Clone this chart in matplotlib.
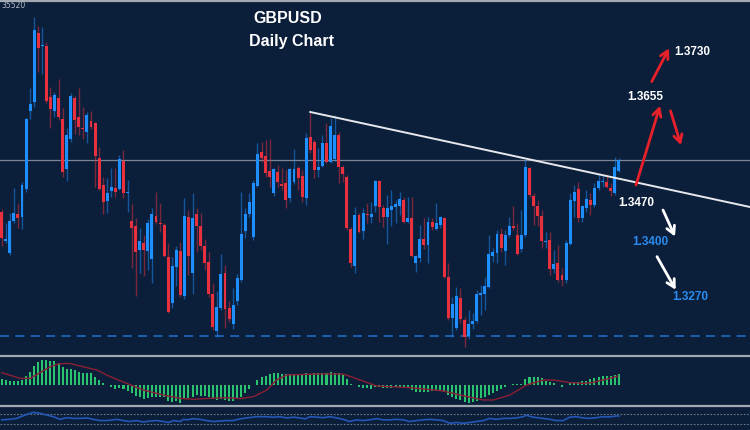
import numpy as np
import matplotlib
matplotlib.use("Agg")
import matplotlib.pyplot as plt
from matplotlib.lines import Line2D

# GBPUSD daily candles
opens = [1.3476, 1.3418, 1.3394, 1.3458, 1.3472, 1.3466, 1.3522, 1.3678, 1.3696, 1.3834,
         1.3808, 1.3808, 1.3706, 1.3678, 1.3704, 1.3662, 1.3562, 1.3622, 1.3704, 1.3666,
         1.3644, 1.3636, 1.3658, 1.3654, 1.3584, 1.3530, 1.3498, 1.3518, 1.3524, 1.3522,
         1.3578, 1.3514, 1.3458, 1.3448, 1.3400, 1.3414, 1.3398, 1.3382, 1.3468, 1.3454,
         1.3450, 1.3386, 1.3294, 1.3366, 1.3398, 1.3308, 1.3466, 1.3354, 1.3472, 1.3448,
         1.3408, 1.3376, 1.3312, 1.3238, 1.3284, 1.3354, 1.3284, 1.3252, 1.3298, 1.3340,
         1.3438, 1.3472, 1.3426, 1.3528, 1.3596, 1.3588, 1.3558, 1.3514, 1.3556, 1.3532,
         1.3534, 1.3504, 1.3536, 1.3564, 1.3548, 1.3504, 1.3626, 1.3616, 1.3560, 1.3568,
         1.3614, 1.3576, 1.3582, 1.3630, 1.3566, 1.3546, 1.3442, 1.3368, 1.3470, 1.3438,
         1.3472, 1.3466, 1.3488, 1.3538, 1.3484, 1.3466, 1.3480, 1.3486, 1.3488, 1.3500,
         1.3456, 1.3464, 1.3374, 1.3384, 1.3422, 1.3410, 1.3456, 1.3442, 1.3450, 1.3464,
         1.3346, 1.3264, 1.3244, 1.3304, 1.3260, 1.3228, 1.3252, 1.3258, 1.3310, 1.3312,
         1.3326, 1.3388, 1.3394, 1.3432, 1.3398, 1.3430, 1.3448, 1.3430, 1.3402, 1.3430,
         1.3564, 1.3508, 1.3488, 1.3468, 1.3416, 1.3420, 1.3362, 1.3374, 1.3350, 1.3340,
         1.3412, 1.3498, 1.3522, 1.3464, 1.3484, 1.3500, 1.3490, 1.3524, 1.3536, 1.3536,
         1.3524, 1.3514, 1.3558]
closes = [1.3424, 1.3422, 1.3458, 1.3474, 1.3464, 1.3530, 1.3662, 1.3692, 1.3840, 1.3804,
          1.3810, 1.3698, 1.3682, 1.3710, 1.3666, 1.3556, 1.3630, 1.3708, 1.3660, 1.3646,
          1.3642, 1.3670, 1.3646, 1.3588, 1.3522, 1.3496, 1.3514, 1.3526, 1.3516, 1.3582,
          1.3514, 1.3516, 1.3444, 1.3396, 1.3418, 1.3400, 1.3454, 1.3472, 1.3456, 1.3452,
          1.3388, 1.3276, 1.3368, 1.3400, 1.3310, 1.3468, 1.3388, 1.3464, 1.3448, 1.3408,
          1.3374, 1.3312, 1.3246, 1.3286, 1.3352, 1.3282, 1.3262, 1.3290, 1.3344, 1.3432,
          1.3472, 1.3496, 1.3534, 1.3592, 1.3584, 1.3554, 1.3546, 1.3562, 1.3536, 1.3528,
          1.3500, 1.3562, 1.3562, 1.3544, 1.3506, 1.3624, 1.3600, 1.3560, 1.3566, 1.3614,
          1.3576, 1.3648, 1.3630, 1.3566, 1.3552, 1.3444, 1.3374, 1.3470, 1.3436, 1.3474,
          1.3470, 1.3472, 1.3538, 1.3486, 1.3466, 1.3484, 1.3488, 1.3492, 1.3502, 1.3456,
          1.3464, 1.3388, 1.3388, 1.3422, 1.3410, 1.3456, 1.3446, 1.3454, 1.3466, 1.3346,
          1.3264, 1.3292, 1.3308, 1.3262, 1.3226, 1.3252, 1.3258, 1.3312, 1.3314, 1.3328,
          1.3392, 1.3396, 1.3432, 1.3404, 1.3430, 1.3448, 1.3444, 1.3392, 1.3430, 1.3566,
          1.3510, 1.3488, 1.3468, 1.3418, 1.3418, 1.3362, 1.3372, 1.3340, 1.3340, 1.3414,
          1.3500, 1.3516, 1.3464, 1.3488, 1.3502, 1.3490, 1.3524, 1.3538, 1.3538, 1.3526,
          1.3518, 1.3566, 1.3580]
highs = [1.3482, 1.3454, 1.3474, 1.3524, 1.3494, 1.3536, 1.3664, 1.3724, 1.3866, 1.3848,
         1.3846, 1.3816, 1.3726, 1.3716, 1.3742, 1.3684, 1.3644, 1.3714, 1.3708, 1.3724,
         1.3686, 1.3676, 1.3678, 1.3656, 1.3606, 1.3546, 1.3544, 1.3564, 1.3564, 1.3590,
         1.3600, 1.3540, 1.3492, 1.3464, 1.3444, 1.3430, 1.3462, 1.3484, 1.3516, 1.3494,
         1.3454, 1.3414, 1.3386, 1.3408, 1.3416, 1.3504, 1.3480, 1.3514, 1.3484, 1.3474,
         1.3422, 1.3396, 1.3334, 1.3318, 1.3392, 1.3370, 1.3298, 1.3324, 1.3352, 1.3516,
         1.3484, 1.3514, 1.3540, 1.3614, 1.3616, 1.3620, 1.3622, 1.3564, 1.3570, 1.3564,
         1.3560, 1.3564, 1.3602, 1.3568, 1.3560, 1.3634, 1.3674, 1.3620, 1.3604, 1.3630,
         1.3654, 1.3664, 1.3670, 1.3636, 1.3570, 1.3550, 1.3446, 1.3486, 1.3474, 1.3484,
         1.3494, 1.3496, 1.3540, 1.3540, 1.3490, 1.3510, 1.3520, 1.3500, 1.3516, 1.3506,
         1.3506, 1.3506, 1.3390, 1.3450, 1.3464, 1.3466, 1.3464, 1.3494, 1.3468, 1.3466,
         1.3374, 1.3306, 1.3326, 1.3324, 1.3266, 1.3280, 1.3274, 1.3320, 1.3330, 1.3346,
         1.3430, 1.3404, 1.3440, 1.3444, 1.3440, 1.3466, 1.3488, 1.3454, 1.3480, 1.3580,
         1.3566, 1.3514, 1.3500, 1.3480, 1.3436, 1.3436, 1.3400, 1.3410, 1.3364, 1.3420,
         1.3514, 1.3530, 1.3536, 1.3490, 1.3520, 1.3514, 1.3534, 1.3554, 1.3548, 1.3552,
         1.3534, 1.3586, 1.3584]
lows = [1.3408, 1.3414, 1.3390, 1.3454, 1.3444, 1.3442, 1.3516, 1.3662, 1.3686, 1.3756,
        1.3752, 1.3694, 1.3644, 1.3666, 1.3660, 1.3546, 1.3538, 1.3616, 1.3632, 1.3630,
        1.3622, 1.3614, 1.3642, 1.3526, 1.3520, 1.3472, 1.3474, 1.3506, 1.3506, 1.3520,
        1.3504, 1.3476, 1.3364, 1.3308, 1.3354, 1.3348, 1.3360, 1.3334, 1.3452, 1.3436,
        1.3386, 1.3274, 1.3284, 1.3328, 1.3306, 1.3302, 1.3350, 1.3312, 1.3396, 1.3400,
        1.3360, 1.3306, 1.3240, 1.3226, 1.3280, 1.3244, 1.3256, 1.3242, 1.3290, 1.3336,
        1.3424, 1.3466, 1.3420, 1.3526, 1.3576, 1.3546, 1.3526, 1.3508, 1.3526, 1.3520,
        1.3484, 1.3496, 1.3532, 1.3520, 1.3496, 1.3490, 1.3594, 1.3544, 1.3546, 1.3566,
        1.3574, 1.3574, 1.3578, 1.3534, 1.3536, 1.3440, 1.3366, 1.3354, 1.3434, 1.3422,
        1.3454, 1.3454, 1.3476, 1.3456, 1.3446, 1.3412, 1.3448, 1.3454, 1.3470, 1.3454,
        1.3454, 1.3386, 1.3356, 1.3376, 1.3402, 1.3374, 1.3440, 1.3440, 1.3444, 1.3344,
        1.3260, 1.3226, 1.3240, 1.3254, 1.3206, 1.3222, 1.3242, 1.3254, 1.3270, 1.3280,
        1.3324, 1.3376, 1.3374, 1.3396, 1.3370, 1.3426, 1.3440, 1.3390, 1.3396, 1.3426,
        1.3506, 1.3450, 1.3448, 1.3404, 1.3404, 1.3350, 1.3354, 1.3336, 1.3328, 1.3334,
        1.3410, 1.3466, 1.3456, 1.3456, 1.3476, 1.3470, 1.3486, 1.3520, 1.3526, 1.3524,
        1.3508, 1.3510, 1.3556]

# MACD panel (pips): histogram per candle, signal line read at points
macd_hist = [1.7, 1.4, 1.1, 1.1, 1.1, 1.4, 2.6, 3.7, 5.7, 6.7,
             7.5, 7.5, 7.1, 7.1, 6.4, 5.4, 4.7, 4.7, 4.4, 3.9,
             3.6, 3.4, 3.4, 2.4, 1.4, 0.4, -0.2, -0.6, -1.3, -1.1,
             -1.4, -1.8, -2.4, -3.4, -3.8, -4.3, -4.1, -3.8, -3.6, -3.6,
             -3.6, -4.8, -5.1, -4.8, -5.4, -4.4, -4.1, -3.6, -3.1, -3.3,
             -3.3, -3.8, -4.4, -4.6, -4.4, -4.6, -4.8, -4.9, -4.4, -3.6,
             -2.4, -1.4, -0.2, 1.4, 2.2, 2.7, 3.1, 3.4, 3.4, 3.2,
             3.2, 3.2, 3.2, 3.2, 3.2, 3.4, 3.2, 3.4, 3.4, 3.4,
             3.6, 3.8, 3.6, 3.4, 2.9, 1.7, 0.2, -0.1, -0.8, -1.1,
             -1.1, -1.4, -0.8, -0.8, -1.1, -1.1, -1.1, -0.8, -0.8, -0.8,
             -1.1, -1.6, -2.3, -2.3, -2.3, -2.3, -1.8, -1.8, -1.8, -2.1,
             -3.1, -3.8, -4.3, -4.6, -5.3, -5.6, -5.3, -4.8, -4.1, -3.6,
             -3.1, -2.6, -1.8, -1.3, -0.6, -0.2, 0.3, 0.3, 0.3, 1.6,
             2.2, 2.2, 2.2, 1.9, 1.2, 0.9, 0.4, -0.2, -0.6, -0.2,
             0.4, 0.9, 0.9, 1.2, 1.2, 1.6, 1.9, 2.2, 2.6, 2.6,
             2.6, 2.9, 3.2]
signal_x = [0, 4.5, 7, 12, 14, 16, 17, 20, 23.4, 26.7, 30.8, 34.9, 39.8, 43.9, 47.2,
            51.3, 55.4, 58.7, 62, 65.3, 67.7, 70.2, 77.6, 84.1, 88.3, 92.4, 100.6,
            108.8, 112.9, 118.6, 121.1, 125.2, 129.3, 133.4, 135.9, 140, 143.3,
            145.7, 149.8, 151.8]
signal_y = [3.6, 1.9, 1.9, 5.4, 6.2, 6.4, 6.3, 5.4, 4.4, 2.4, 0.4, -1.6, -3.1, -4.1, -4.4,
            -4.1, -3.9, -4.2, -3.6, -1.6, 1.4, 2.9, 3.2, 3.2, 1.4, -0.4, -0.9,
            -1.9, -3.1, -4.6, -4.6, -3.1, -0.1, 1.4, 1.4, 0.6, 0.4,
            0.7, 1.9, 2.6]

# lower oscillator (RSI style) read at points
osc_x = [0, 1.9, 3.7, 5.3, 7, 7.8, 9.4, 11.1, 12.7, 14.4, 16, 17.6, 19.3, 20.9, 22.6,
         24.2, 25.9, 27.5, 28.3, 30, 31.6, 33.2, 34.9, 36.5, 38.2, 39.8, 41.1, 42.3,
         44, 44.7, 45.6, 47.2, 48.8, 50.5, 52.1, 53.8, 55.4, 57, 58.7, 60.3, 62.8,
         65.3, 66.9, 68.5, 70.2, 71.8, 73.5, 74.7, 76, 79.2, 80.8, 82.5, 84.1, 85.7,
         87.4, 89, 90.7, 92.3, 93.9, 95.6, 97.2, 98.9, 100.5, 102.2, 103.8, 105.4,
         107.1, 108.7, 110.4, 112, 113.6, 115.3, 116.9, 118.6, 120.2, 121.8, 123.5,
         125.1, 126.8, 128.4, 129.2, 130.9, 133.3, 135, 136.6, 138.3, 139.9, 141.5,
         143.2, 144.8, 146.5, 148.1, 149.7, 151.4, 152]
osc_y = [47, 49, 53, 64, 74, 78, 74, 67, 60, 49, 56, 53, 53, 55, 49,
         44, 44, 47, 49, 44, 40, 44, 38, 42, 44, 40, 36, 44,
         40, 49, 47, 52, 49, 44, 40, 42, 44, 44, 51, 55, 60,
         60, 58, 60, 55, 58, 55, 51, 60, 56, 60, 55, 49, 40,
         47, 44, 47, 52, 47, 47, 49, 47, 40, 44, 47, 49,
         47, 44, 33, 36, 33, 36, 40, 44, 53, 49, 53,
         53, 55, 60, 66, 58, 53, 49, 44, 44, 58, 60,
         55, 53, 56, 60, 59, 63, 63]
osc_levels = [70, 30]

# drawn levels
trend_x = [76, 184.3]
trend_y = [1.3676, 1.3486]
support_level = 1.3228

# target labels (axes fraction positions)
targets = ['1.3730', '1.3655', '1.3470', '1.3400', '1.3270']
target_pos = [(0.9233, 0.852), (0.8607, 0.726), (0.848, 0.426), (0.8673, 0.314), (0.9207, 0.160)]
target_col = ['white', 'white', 'white', '#2b8cf0', '#2b8cf0']

bg = '#0b1f3a'
up_col = '#1e8fff'
dn_col = '#e8303f'

W, H = 750, 430
fig = plt.figure(figsize=(7.5, 4.3), dpi=100, facecolor=bg)
ax = fig.add_axes([0, 77 / H, 1, 353 / H])
ax_m = fig.add_axes([0, 25 / H, 1, 48 / H])
ax_o = fig.add_axes([0, 0, 1, 22 / H])
xlim = (-1.7 / 4.06, (W - 1.7) / 4.06)
for a in (ax, ax_m, ax_o):
    a.set_facecolor(bg)
    a.set_xlim(*xlim)
    a.set_xticks([])
    a.set_yticks([])
    for s in a.spines.values():
        s.set_visible(False)

o = np.array(opens)
c = np.array(closes)
h = np.array(highs)
l = np.array(lows)
x = np.arange(len(o))
up = c >= o
cols = np.where(up, up_col, dn_col)

ax.axhline(closes[-1], color='#7b8594', lw=0.9, zorder=1)
ax.axhline(support_level, color='#1c64b8', lw=1.3, ls=(0, (5, 3.5)), zorder=1)

ax.vlines(x, l, h, colors=cols, lw=1.0, alpha=0.5, zorder=2)
body_lo = np.minimum(o, c)
body_h = np.maximum(np.abs(c - o), 0.0003)
ax.bar(x, body_h, bottom=body_lo, width=0.72, color=cols, lw=0, zorder=3,
       antialiased=False)

ax.plot(trend_x, trend_y, color='#e8e8ec', lw=1.4, zorder=4)
ax.set_ylim(1.3900 - 353 * 0.0002, 1.3900)

ax.text(0.3833, 0.949, 'GBPUSD', transform=ax.transAxes, ha='center', va='center',
        color='white', fontsize=11.5, fontweight='bold', family='Liberation Sans')
ax.text(0.389, 0.882, 'Daily Chart', transform=ax.transAxes, ha='center', va='center',
        color='white', fontsize=11.5, fontweight='bold', family='Liberation Sans')

for t, p, col in zip(targets, target_pos, target_col):
    ax.text(p[0], p[1], t, transform=ax.transAxes, ha='center', va='center',
            color=col, fontsize=8.5, fontweight='bold', family='Liberation Sans', zorder=6)

arrows = [((0.848, 0.476), (0.880, 0.700), '#e8202a'),
          ((0.869, 0.769), (0.892, 0.863), '#e8202a'),
          ((0.894, 0.686), (0.908, 0.589), '#e8202a'),
          ((0.884, 0.405), (0.900, 0.330), 'white'),
          ((0.876, 0.273), (0.901, 0.179), 'white')]
for tail, head, col in arrows:
    ax.annotate('', xy=head, xytext=tail, xycoords='axes fraction',
                arrowprops=dict(arrowstyle='->,head_length=0.55,head_width=0.3',
                                color=col, lw=2, shrinkA=0, shrinkB=0), zorder=6)

# MACD
ax_m.bar(x, macd_hist, width=0.5, color='#2bc46e', lw=0, antialiased=False)
ax_m.plot(signal_x, signal_y, color='#8c1f34', lw=1)
ax_m.set_ylim(-6.1, 8.3)

# oscillator
for lv in osc_levels:
    ax_o.axhline(lv, color='#6e7784', lw=0.8, ls=(0, (1.5, 1.5)))
ax_o.plot(osc_x, osc_y, color='#2457b8', lw=1.2)
ax_o.set_ylim(5, 96)

for yy in (429.5 / H, 74 / H, 24 / H):
    fig.add_artist(Line2D([0, 1], [yy, yy], transform=fig.transFigure,
                          color='#a2a8b0', lw=1.6))

fig.text(0.002, 0.997, '35520', ha='left', va='top', fontsize=5.5, color='#b4bac3')

fig.savefig('out.png', dpi=100, facecolor=bg)
